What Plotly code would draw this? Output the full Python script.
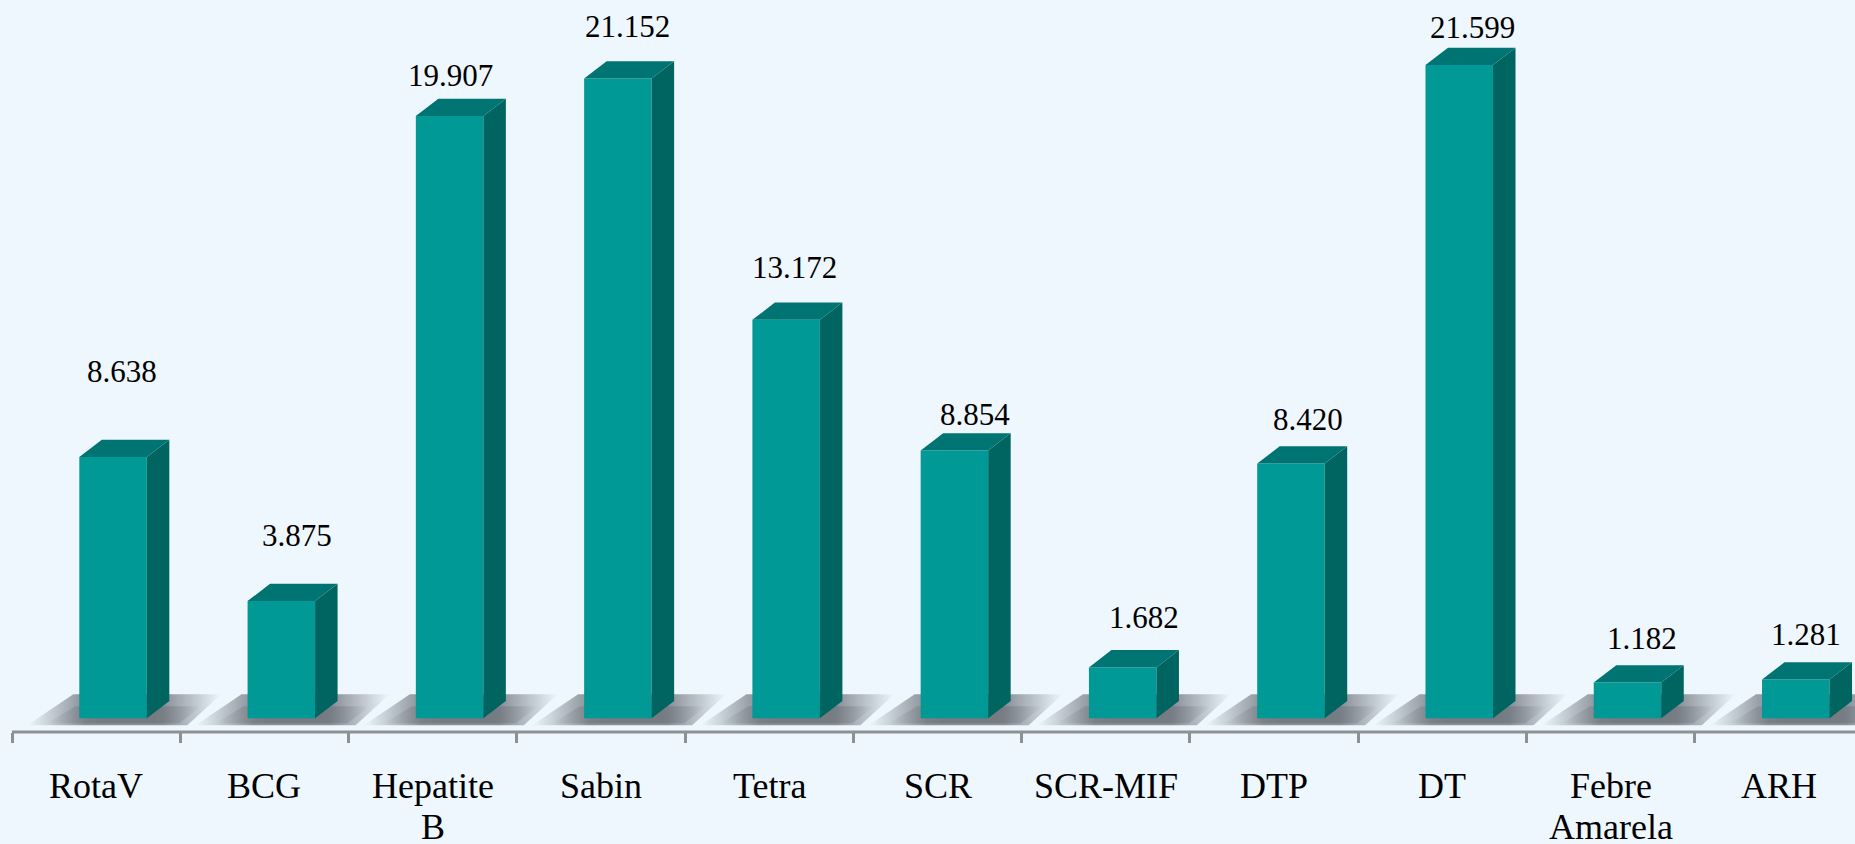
import plotly.graph_objects as go

# ---------------- data ----------------
categories = ["RotaV", "BCG", "Hepatite B", "Sabin", "Tetra", "SCR",
              "SCR-MIF", "DTP", "DT", "Febre Amarela", "ARH"]
label_lines = [["RotaV"], ["BCG"], ["Hepatite", "B"], ["Sabin"], ["Tetra"], ["SCR"],
               ["SCR-MIF"], ["DTP"], ["DT"], ["Febre", "Amarela"], ["ARH"]]
doses = [8638, 3875, 19907, 21152, 13172, 8854, 1682, 8420, 21599, 1182, 1281]

# value-label placement (style): px offset from category centre / bar top
label_dx_px = [26, 33, 17.5, 27, 25.4, 37.6, 38.3, 33.7, 30.2, 31.4, 27.1]
label_dy_px = [85.6, 66, 40.5, 52, 52, 35.7, 50, 44, 37, 43.6, 45.5]

# ---------------- layout geometry ----------------
W, H = 1855, 844
ML, MR, MT, MB = 12, 0, 0, 112
plot_w = W - ML - MR
plot_h = H - MT - MB
x_range = [-0.5, 10.4525]
px_per_cat = plot_w / (x_range[1] - x_range[0])
baseline_from_top = 718.3
px_per_unit = 30.25 / 1000.0
y_range = [-(plot_h - baseline_from_top) / px_per_unit, baseline_from_top / px_per_unit]

BG = "#EEF7FE"
FRONT = "#009996"
TOP = "#007472"
SIDE = "#006461"
AXIS = "#8E9193"
FONT = "Liberation Serif, Times New Roman, DejaVu Serif, serif"

bar_offset = -0.1
bar_width = 67.5 / px_per_cat
dx = 22.5 / px_per_cat
dy = 17.3 / px_per_unit

def cx(px):
    return px / px_per_cat

def uy(px):
    return px / px_per_unit

fig = go.Figure()
xs = list(range(len(categories)))

# floor shadows (soft outer + darker core)
for i, v in zip(xs, doses):
    xl = i + bar_offset
    sx = [xl - cx(52), xl + cx(108), xl + cx(142), xl - cx(6), xl - cx(52)]
    sy = [-uy(7), -uy(7), uy(24), uy(24), -uy(7)]
    fig.add_trace(go.Scatter(
        x=sx, y=sy, mode="lines", fill="toself", line=dict(width=0),
        fillgradient=dict(type="horizontal", colorscale=[
            [0.0, "rgba(118,124,131,0)"], [0.3, "rgba(118,124,131,0.85)"],
            [0.7, "rgba(118,124,131,0.85)"], [1.0, "rgba(118,124,131,0)"]]),
        hoverinfo="skip", showlegend=False, zorder=0))
    sx2 = [xl - cx(32), xl + cx(100), xl + cx(122), xl - cx(4), xl - cx(32)]
    sy2 = [-uy(5), -uy(5), uy(12), uy(12), -uy(5)]
    fig.add_trace(go.Scatter(
        x=sx2, y=sy2, mode="lines", fill="toself", line=dict(width=0),
        fillgradient=dict(type="horizontal", colorscale=[
            [0.0, "rgba(105,110,117,0)"], [0.35, "rgba(105,110,117,0.6)"],
            [0.7, "rgba(105,110,117,0.6)"], [1.0, "rgba(105,110,117,0)"]]),
        hoverinfo="skip", showlegend=False, zorder=0))

# front faces
fig.add_trace(go.Bar(
    x=xs, y=doses, offset=bar_offset, width=bar_width,
    marker=dict(color=FRONT, line=dict(width=0)),
    hovertext=categories, hoverinfo="text+y", showlegend=False, zorder=1))

# side and top faces
for i, v in zip(xs, doses):
    xl = i + bar_offset
    xr = xl + bar_width
    fig.add_trace(go.Scatter(
        x=[xr, xr + dx, xr + dx, xr, xr], y=[0, dy, v + dy, v, 0],
        mode="lines", fill="toself", fillcolor=SIDE, line=dict(width=0, color=SIDE),
        hoverinfo="skip", showlegend=False, zorder=2))
    fig.add_trace(go.Scatter(
        x=[xl, xr, xr + dx, xl + dx, xl], y=[v, v, v + dy, v + dy, v],
        mode="lines", fill="toself", fillcolor=TOP, line=dict(width=0, color=TOP),
        hoverinfo="skip", showlegend=False, zorder=2))

annotations = []
# value labels
for i, v in enumerate(doses):
    annotations.append(dict(
        x=i, y=v, xref="x", yref="y", text=f"{v:,}".replace(",", "."),
        showarrow=False, xanchor="center", yanchor="middle",
        xshift=label_dx_px[i], yshift=label_dy_px[i],
        font=dict(family=FONT, size=31, color="#000000")))
# category labels
line_shift = [-53.7, -95.0]
for i, lines in enumerate(label_lines):
    for j, t in enumerate(lines):
        annotations.append(dict(
            x=i, y=0, xref="x", yref="paper", text=t, showarrow=False,
            xanchor="center", yanchor="middle", yshift=line_shift[j],
            font=dict(family=FONT, size=36, color="#000000")))

fig.update_layout(
    width=W, height=H,
    margin=dict(l=ML, r=MR, t=MT, b=MB, pad=0),
    paper_bgcolor=BG, plot_bgcolor=BG,
    showlegend=False,
    font=dict(family=FONT),
    annotations=annotations,
    shapes=[dict(type="line", xref="paper", yref="paper", x0=0, x1=1, y0=0, y1=0,
                 line=dict(color=AXIS, width=3), layer="above")],
    xaxis=dict(range=x_range, tickmode="array",
               tickvals=[k - 0.5 for k in range(len(categories) + 1)],
               showticklabels=False, ticks="outside", ticklen=10, tickwidth=2.5,
               tickcolor=AXIS, showline=False,
               showgrid=False, zeroline=False, fixedrange=True),
    yaxis=dict(range=y_range, visible=False, showgrid=False, zeroline=False,
               fixedrange=True),
)

fig.write_html(
    "out.html",
    config={"displayModeBar": False},
    post_script="document.body.style.margin='0';document.body.style.overflow='hidden';"
                "document.body.style.background='" + BG + "';",
)
